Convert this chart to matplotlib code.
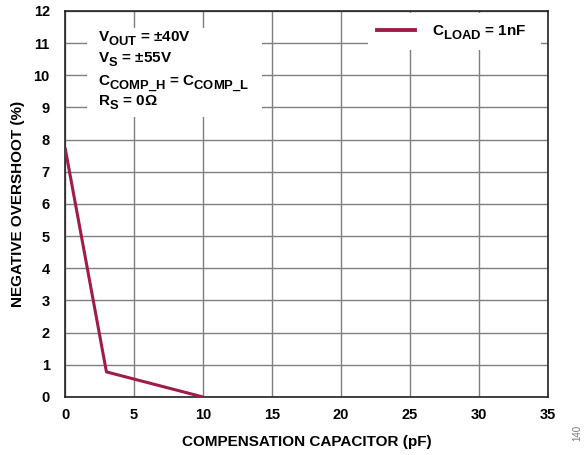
import matplotlib
matplotlib.use('Agg')
import matplotlib.pyplot as plt
from matplotlib.patches import Rectangle

# subíndices casi del mismo tamaño que el texto y más bajos, como en la figura original
try:
    import matplotlib._mathtext as _mt
    _mt.SHRINK_FACTOR = 0.85
    _mt.FontConstantsBase.sub1 = 0.55
    _mt.FontConstantsBase.sub2 = 0.6
except Exception:
    pass

# Datos
comp_cap = [0, 3, 10]
overshoot = [7.75, 0.78, 0.0]
x_ticks = [0, 5, 10, 15, 20, 25, 30, 35]
y_ticks = list(range(0, 13))
cond_lines = ['V$_{\\mathrm{OUT}}$ = ±40V',
              'V$_{\\mathrm{S}}$ = ±55V',
              'C$_{\\mathrm{COMP\\_H}}$ = C$_{\\mathrm{COMP\\_L}}$',
              'R$_{\\mathrm{S}}$ = 0Ω']

plt.rcParams['font.family'] = ['Liberation Sans', 'DejaVu Sans']
plt.rcParams['font.weight'] = 'bold'
plt.rcParams['mathtext.fontset'] = 'custom'
plt.rcParams['mathtext.rm'] = 'Liberation Sans:bold'
plt.rcParams['mathtext.bf'] = 'Liberation Sans:bold'
plt.rcParams['mathtext.it'] = 'Liberation Sans:bold'

fig = plt.figure(figsize=(5.86, 4.55), dpi=100)
ax = fig.add_axes([0.111, 0.1275, 0.824, 0.8485])

line_color = '#A01C44'
ax.plot(comp_cap, overshoot, color=line_color, linewidth=2.2,
        solid_capstyle='butt', zorder=3)

ax.set_xlim(0, 35)
ax.set_ylim(0, 12)
ax.set_xticks(x_ticks)
ax.set_yticks(y_ticks)
ax.tick_params(axis='x', length=0, labelsize=10.5, pad=8)
ax.tick_params(axis='y', length=0, labelsize=10.5, pad=11)
for lab in ax.get_xticklabels() + ax.get_yticklabels():
    lab.set_fontweight('bold')
ax.grid(True, color='#7f7f7f', linewidth=1)
for s in ax.spines.values():
    s.set_color('#222222')
    s.set_linewidth(1.2)

ax.set_xlabel('COMPENSATION CAPACITOR (pF)', fontsize=11, fontweight='bold', labelpad=9)
ax.set_ylabel('NEGATIVE OVERSHOOT (%)', fontsize=11, fontweight='bold', labelpad=6)

# recuadro blanco de condiciones
ax.add_patch(Rectangle((0.0455, 0.725), 0.362, 0.231, transform=ax.transAxes,
                       facecolor='white', edgecolor='none', zorder=2.5))
cond_y = [0.9197, 0.8653, 0.8083, 0.7539]
for txt, yy in zip(cond_lines, cond_y):
    ax.text(0.0683, yy, txt, fontsize=11, fontweight='bold', va='baseline',
            ha='left', transform=ax.transAxes, zorder=4)

# leyenda
ax.add_patch(Rectangle((0.627, 0.90), 0.358, 0.094, transform=ax.transAxes,
                       facecolor='white', edgecolor='none', zorder=2.5))
ax.plot([], [], color=line_color, linewidth=2.8, label=r'C$_{\mathrm{LOAD}}$ = 1nF')
leg = ax.legend(loc='center left', bbox_to_anchor=(0.646, 0.943), frameon=False,
                fontsize=11, handlelength=2.5, handletextpad=1.1,
                borderpad=0, borderaxespad=0)
leg.set_zorder(5)
for t in leg.get_texts():
    t.set_fontweight('bold')

fig.text(0.985, 0.03, '140', rotation=90, fontsize=7, color='#777777',
         fontweight='normal', ha='center', va='bottom')

fig.savefig('out.png', dpi=100)
